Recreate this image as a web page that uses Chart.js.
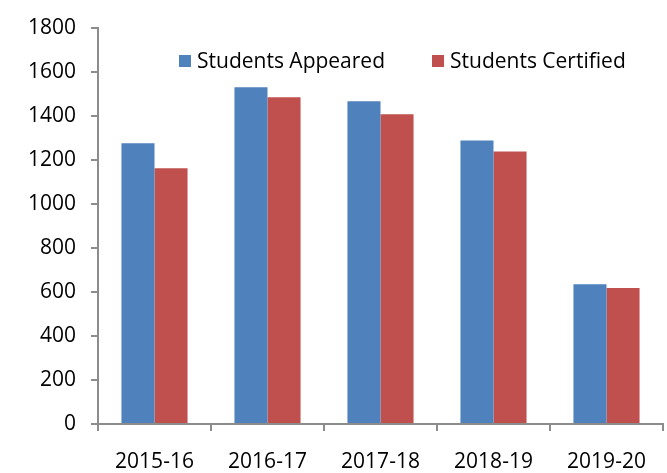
<!DOCTYPE html>
<html>
<head>
<meta charset="utf-8">
<script src="https://cdn.jsdelivr.net/npm/chart.js@4/dist/chart.umd.min.js"></script>
<style>
  html, body { margin: 0; padding: 0; background: #fff; }
  #wrap { width: 667px; height: 473px; }
</style>
</head>
<body>
<div id="wrap"><canvas id="myChart" width="667" height="473"></canvas></div>
<script>
/*******************************
* DATA
********************************/
var years = ["2015-16", "2016-17", "2017-18", "2018-19", "2019-20"];
var appeared = [1275, 1529, 1466, 1287, 635];
var certified = [1161, 1484, 1406, 1237, 617];
var yTicks = [0, 200, 400, 600, 800, 1000, 1200, 1400, 1600, 1800];

(function(){

  var FONT = "'Open Sans', sans-serif";
  var AXIS = "#8c8c8c";

  /*******************************
  * Legend drawn inside the plot, top right of centre
  ********************************/
  var innerLegend = {
    id: 'innerLegend',
    afterDraw: function(chart) {
      var c = chart.ctx;
      var x = 179, y = 61;
      c.save();
      c.font = "21px " + FONT;
      c.textBaseline = 'middle';
      chart.data.datasets.forEach(function(ds, i){
        c.fillStyle = ds.backgroundColor;
        c.fillRect(x, y - 6, 12, 12);
        c.fillStyle = '#000';
        c.fillText(ds.label, x + 18, y + 1);
        x += 18 + c.measureText(ds.label).width + 47;
      });
      c.restore();
    }
  };

  var ctx = document.getElementById("myChart");

  var myChart = new Chart(ctx, {
    type: 'bar',
    data: {
      labels: years,
      datasets: [
        {
          label: "Students Appeared",
          backgroundColor: "#4F81BD",
          data: appeared
        },
        {
          label: "Students Certified",
          backgroundColor: "#C0504D",
          data: certified
        }
      ]
    },
    plugins: [innerLegend],
    options: {
      responsive: false,
      animation: false,
      layout: { padding: { top: 25, right: 4, left: 0, bottom: 0 } },
      datasets: {
        bar: { categoryPercentage: 0.585, barPercentage: 1.0 }
      },
      plugins: {
        legend: { display: false },
        tooltip: { enabled: false }
      },
      scales: {
        x: {
          grid: {
            drawOnChartArea: false,
            color: AXIS,
            tickLength: 7,
            lineWidth: 2
          },
          border: { color: AXIS, width: 2 },
          ticks: {
            color: '#000',
            font: { family: FONT, size: 21 },
            padding: 18,
            maxRotation: 0
          },
          afterFit: function(scale) { scale.height = 49; }
        },
        y: {
          min: 0,
          max: 1800,
          afterBuildTicks: function(scale) {
            scale.ticks = yTicks.map(function(v){ return { value: v }; });
          },
          grid: {
            drawOnChartArea: false,
            color: AXIS,
            tickLength: 7,
            lineWidth: 2
          },
          border: { color: AXIS, width: 2 },
          ticks: {
            color: '#000',
            font: { family: FONT, size: 21 },
            padding: 15,
            callback: function(v) { return String(v); }
          },
          afterFit: function(scale) { scale.width = 98; }
        }
      }
    }
  });

})()
</script>
</body>
</html>
